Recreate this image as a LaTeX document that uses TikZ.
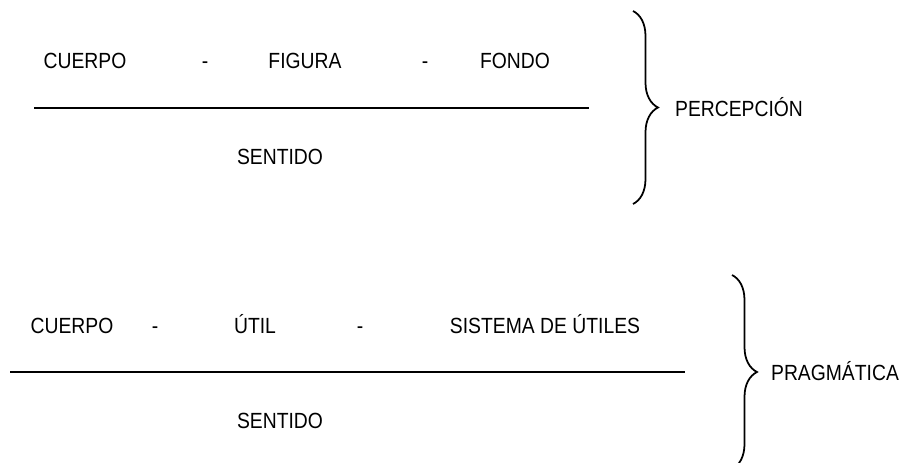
\documentclass[tikz,border=0pt]{standalone}
\usepackage{fontspec}
\setmainfont[FakeStretch=0.88]{Liberation Sans}
\usetikzlibrary{decorations.pathreplacing, positioning}

\begin{document}
\begin{tikzpicture}[x=0.02cm, y=-0.02cm,
    word/.style={font=\fontsize{12.5}{14}\selectfont, inner sep=0pt, anchor=base},
    rule/.style={line width=1pt},
    curly/.style={line width=1pt, decorate, decoration={brace, amplitude=0.5cm}}]
  \useasboundingbox (0,0) rectangle (906,463);

  % perception
  \node (c1) [word] at (85,68) {CUERPO};
  \node (d1) [word] at (205,68) {-};
  \node (fig) [word] at (305,68) {FIGURA};
  \node (d2) [word] at (425,68) {-};
  \node (fon) [word] at (515,68) {FONDO};
  \coordinate (l1a) at (34,108);
  \coordinate (l1b) at (589,108);
  \draw [rule] (l1a) -- (l1b);
  \node (s1) [word] at (280,164) {SENTIDO};
  \coordinate (b1a) at (633,11);
  \coordinate (b1b) at (633,204);
  \draw [curly] (b1a) -- (b1b);
  \node (per) [word] at (739,116) {PERCEPCIÓN};

  % pragmatics
  \node (c2) [word] at (72,333) {CUERPO};
  \node (d3) [word] at (155,333) {-};
  \node (util) [word] at (255,333) {ÚTIL};
  \node (d4) [word] at (360,333) {-};
  \node (sis) [word] at (545,333) {SISTEMA DE ÚTILES};
  \coordinate (l2a) at (10,372);
  \coordinate (l2b) at (685,372);
  \draw [rule] (l2a) -- (l2b);
  \node (s2) [word] at (280,428) {SENTIDO};
  \coordinate (b2a) at (732,275);
  \coordinate (b2b) at (732,469);
  \draw [curly] (b2a) -- (b2b);
  \node (pra) [word] at (835,380) {PRAGMÁTICA};
\end{tikzpicture}
\end{document}
